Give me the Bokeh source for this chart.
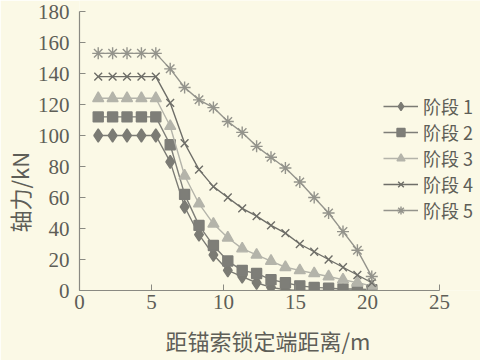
from bokeh.plotting import figure
from bokeh.models import Legend, LegendItem, Range1d, FixedTicker, Title
from bokeh.embed import file_html
from bokeh.resources import INLINE

# distances from anchor locking end (m)
dist = [1.3, 2.3, 3.3, 4.3, 5.3, 6.3, 7.3, 8.3, 9.3, 10.3,
        11.3, 12.3, 13.3, 14.3, 15.3, 16.3, 17.3, 18.3, 19.3, 20.3]

stage1 = [100, 100, 100, 100, 100, 83, 54, 36, 23, 13, 9, 5, 2, 0.5, 0, 0, 0, 0, 0, 0]
stage2 = [112, 112, 112, 112, 112, 94, 62, 42, 29, 19, 13, 11, 7, 5, 3, 2, 1.5, 1, 1, 0.5]
stage3 = [124, 124, 124, 124, 124, 106, 74, 56, 43, 34, 27, 23, 19, 15, 13, 11, 9, 7, 5, 3]
stage4 = [138, 138, 138, 138, 138, 121, 95, 78, 67, 60, 53, 48, 42, 37, 30, 25, 20, 15, 10, 5]
stage5 = [153, 153, 153, 153, 153, 143, 131, 123, 118, 109, 102, 93, 86, 79, 70, 60, 50, 38, 26, 9]

labels = ["阶段 1", "阶段 2", "阶段 3", "阶段 4", "阶段 5"]
x_ticks = [0, 5, 10, 15, 20, 25]
y_ticks = [0, 20, 40, 60, 80, 100, 120, 140, 160, 180]

BG = "#fbf9e6"
TXT = "#5e5e57"
AX = "#8a8a82"

p = figure(width=472, height=350, output_backend="svg", toolbar_location=None,
           x_range=Range1d(0, 27.85), y_range=Range1d(0, 187.1),
           frame_width=401, frame_height=290,
           min_border_left=71, min_border_top=0, min_border_right=0, min_border_bottom=60,
           background_fill_color=BG, border_fill_color=BG, outline_line_color=None)
p.grid.visible = False

p.xaxis.ticker = FixedTicker(ticks=x_ticks)
p.yaxis.ticker = FixedTicker(ticks=y_ticks)
p.xaxis.bounds = (0, 25)
p.yaxis.bounds = (0, 180)
for ax in (p.xaxis[0], p.yaxis[0]):
    ax.major_tick_in = 6
    ax.major_tick_out = 0
    ax.minor_tick_line_color = None
    ax.axis_line_color = AX
    ax.major_tick_line_color = AX
    ax.axis_line_width = 1.2
    ax.major_label_text_color = TXT
    ax.major_label_text_font = "Liberation Serif"
    ax.major_label_text_font_size = "21px"

p.xaxis.major_label_standoff = 4
p.yaxis.major_label_standoff = 10

xt = Title(text="距锚索锁定端距离/m", align="left", offset=86, standoff=21,
           text_font="Noto Sans CJK SC", text_font_size="22px", text_font_style="normal",
           text_color=TXT)
p.add_layout(xt, "below")
yt = Title(text="轴力/kN", align="left", offset=58, standoff=0,
           text_font="Noto Sans CJK SC", text_font_size="22px", text_font_style="normal",
           text_color=TXT)
p.add_layout(yt, "left")

series = [
    (stage1, "diamond", 13, "#7b7b74"),
    (stage2, "square", 10, "#7e7e78"),
    (stage3, "triangle", 11, "#b4b4aa"),
    (stage4, "x", 11, "#6e6e68"),
    (stage5, "asterisk", 12, "#94948c"),
]

items = []
for (ys, marker, size, col), lab in zip(series, labels):
    r1 = p.line(dist, ys, line_color=col, line_width=1.4)
    r2 = p.scatter(dist, ys, marker=marker, size=size, fill_color=col, line_color=col, line_width=1.4)
    items.append(LegendItem(label=lab, renderers=[r1, r2]))

legend = Legend(items=items, location=(304, 67), background_fill_alpha=0,
                border_line_color=None, padding=0, margin=0, spacing=0,
                glyph_width=35, glyph_height=20, label_height=20, label_standoff=5,
                label_text_font="Noto Sans CJK SC", label_text_font_size="18px",
                label_text_color=TXT)
p.add_layout(legend, "center")

open("out.html", "w").write(file_html(p, INLINE))
